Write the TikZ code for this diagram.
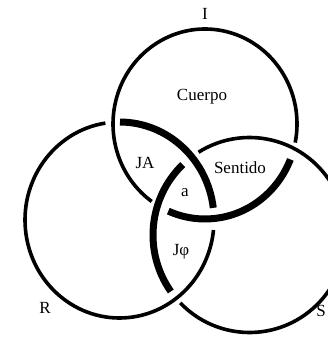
\documentclass[tikz,border=0pt]{standalone}
\usepackage{fontspec}
\setmainfont{Liberation Serif}
\begin{document}
\begin{tikzpicture}[x=1pt,y=1pt,
  thin ring/.style={line width=3.6pt,line cap=butt},
  thick ring/.style={line width=7pt,line cap=butt},
  lab/.style={font=\fontsize{17}{19}\selectfont,inner sep=0pt}]
\useasboundingbox (0,0) rectangle (327,337);
\coordinate (cI) at (205,213);
\coordinate (cR) at (119.5,117);
\coordinate (cS) at (249.5,102);
% ring I (top)
\draw[thin ring] (cI) ++(-11.3:92 and 95) arc[start angle=-11.3,end angle=234.6,x radius=92,y radius=95];
\draw[thick ring] (cI) ++(-113.5:92 and 95) arc[start angle=-113.5,end angle=-21.9,x radius=92,y radius=95];
% ring R (left)
\draw[thin ring] (cR) ++(98.6:94.5 and 98) arc[start angle=98.6,end angle=354.1,x radius=94.5,y radius=98];
\draw[thick ring] (cR) ++(7.1:94.5 and 98) arc[start angle=7.1,end angle=89.7,x radius=94.5,y radius=98];
% ring S (right)
\draw[thin ring] (cS) ++(224.1:96.5 and 97.5) arc[start angle=224.1,end angle=481.9,x radius=96.5,y radius=97.5];
\draw[thick ring] (cS) ++(133.8:96.5 and 97.5) arc[start angle=133.8,end angle=215.4,x radius=96.5,y radius=97.5];
% labels
\node[lab] (lI) at (205,323) {I};
\node[lab] (lC) at (202,240) {Cuerpo};
\node[lab] (lJA) at (145,174) {JA};
\node[lab] (lSe) at (240,169) {Sentido};
\node[lab] (la) at (185,144) {a};
\node[lab] (lJp) at (181,85) {Jφ};
\node[lab] (lR) at (45,29) {R};
\node[lab] (lS) at (321,26) {S};
\end{tikzpicture}
\end{document}
